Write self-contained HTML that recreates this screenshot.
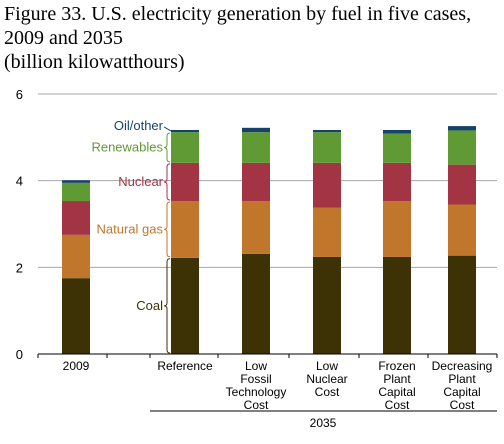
<!DOCTYPE html>
<html><head><meta charset="utf-8"><style>
body{margin:0;background:#fff;width:504px;height:439px;overflow:hidden}
svg text{font-family:"Liberation Sans",sans-serif}
</style></head><body>
<svg width="504" height="439">
<g font-size="20" fill="#000">
<text x="4" y="20" style="font-family:'Liberation Serif',serif">Figure 33. U.S. electricity generation by fuel in five cases,</text>
<text x="4" y="44" style="font-family:'Liberation Serif',serif">2009 and 2035</text>
<text x="4" y="68" style="font-family:'Liberation Serif',serif">(billion kilowatthours)</text>
</g>
<g id="grid"></g><g id="bars"></g><g id="axis"></g><g id="ann"></g>
</svg>
<script>
const categories=[["2009"],["Reference"],["Low","Fossil","Technology","Cost"],["Low","Nuclear","Cost"],["Frozen","Plant","Capital","Cost"],["Decreasing","Plant","Capital","Cost"]];
const coal=[1.75,2.22,2.31,2.24,2.24,2.27];
const gas=[1.00,1.31,1.22,1.14,1.29,1.18];
const nuclear=[0.78,0.88,0.88,1.03,0.88,0.92];
const renewables=[0.42,0.71,0.71,0.71,0.68,0.79];
const oil=[0.06,0.05,0.10,0.05,0.08,0.10];
const yTicks=[0,2,4,6];
const seriesNames=["coal","natural-gas","nuclear","renewables","oil-other"];
const colors=["#3d3205","#c0762b","#a23444","#5f9a34","#16436a"];
const NS="http://www.w3.org/2000/svg";
const y=v=>354-v*43.33;
const barX=[62,171,242,313,383,448], bw=28;
function mk(t,a,p){const e=document.createElementNS(NS,t);for(const k in a)e.setAttribute(k,a[k]);p.appendChild(e);return e;}
const grid=document.getElementById('grid');
yTicks.forEach(t=>{
 if(t>0){const l=mk('line',{x1:38,x2:497,y1:y(t),y2:y(t),stroke:'#a6a6a6','stroke-width':1},grid);
 
 }
 const tx=mk('text',{x:23,y:y(t)+5,'text-anchor':'end','font-size':13,fill:'#000'},grid);tx.textContent=t;
 
 
});
const bars=document.getElementById('bars');
const series=[coal,gas,nuclear,renewables,oil];
categories.forEach((c,i)=>{let base=0;
 series.forEach((s,j)=>{const v=s[i];
  const r=mk('rect',{x:barX[i],width:bw,y:y(base+v),height:y(base)-y(base+v),fill:colors[j]},bars);
  
  
  base+=v;});
});
const ax=document.getElementById('axis');
mk('line',{x1:38,x2:497,y1:354,y2:354,stroke:'#000'},ax);
[38,107,150,218,289,359,428,497].forEach(x=>mk('line',{x1:x,x2:x,y1:354,y2:358,stroke:'#000'},ax));
categories.forEach((c,i)=>{c.forEach((w,k)=>{const t=mk('text',{x:barX[i]+bw/2,y:370+k*13,'text-anchor':'middle','font-size':12,fill:'#000'},ax);t.textContent=w;
 
 });});
mk('line',{x1:150,x2:497,y1:411,y2:411,stroke:'#000'},ax);
const l35=mk('text',{x:323,y:427,'text-anchor':'middle','font-size':12},ax);l35.textContent='2035';


const ann=document.getElementById('ann');
let base=0;const labels=["Coal","Natural gas","Nuclear","Renewables","Oil/other"];
series.forEach((s,j)=>{const v=s[1];const y0=y(base),y1=y(base+v);const m=(y0+y1)/2;
 if(j<4){mk('path',{d:`M170 ${y1+1} Q167 ${y1+1} 167 ${y1+4} L167 ${m-3} Q167 ${m} 164 ${m} Q167 ${m} 167 ${m+3} L167 ${y0-4} Q167 ${y0-1} 170 ${y0-1}`,fill:'none',stroke:colors[j],'stroke-width':1},ann);}
 else mk('line',{x1:164,y1:y1-3,x2:171,y2:y1+1,stroke:colors[j]},ann);
 const t=mk('text',{x:163,y:(j<4?m:y1-4)+4,'text-anchor':'end','font-size':13,fill:colors[j]},ann);t.textContent=labels[j];
 
 
 base+=v;});
</script>
</body></html>
